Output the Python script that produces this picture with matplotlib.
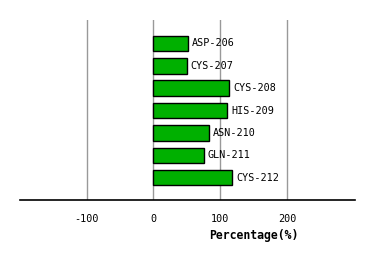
import matplotlib
matplotlib.use("Agg")
import matplotlib.pyplot as plt

labels = ["ASP-206", "CYS-207", "CYS-208", "HIS-209", "ASN-210", "GLN-211", "CYS-212"]
values = [51.5, 50, 113, 110, 83, 75.5, 117.5]
xticks = [-100, 0, 100, 200]

fig = plt.figure(figsize=(3.74, 2.60), dpi=100)
ax = fig.add_axes([20/374, 60/260, 335/374, 180/260])
ypos = list(range(len(labels)))
ax.barh(ypos, values, height=0.69, color="#00b000", edgecolor="black", linewidth=1.0, zorder=3)
for y, v, lab in zip(ypos, values, labels):
    ax.text(v + 6, y, lab, va="center", ha="left", family="DejaVu Sans Mono", fontsize=7.3, zorder=4)
ax.set_xlim(-200, 302)
ax.set_ylim(7.0, -1.05)
ax.set_xticks(xticks)
ax.set_xticklabels([str(t) for t in xticks], family="DejaVu Sans Mono", fontsize=7.3)
ax.tick_params(axis="x", length=0, pad=10)
ax.set_yticks([])
for t in xticks:
    ax.axvline(t, color="#999999", linewidth=1.0, zorder=1)
for s in ["top", "left", "right"]:
    ax.spines[s].set_visible(False)
ax.spines["bottom"].set_linewidth(1.2)
ax.spines["bottom"].set_zorder(5)
ax.set_xlabel("Percentage(%)", family="DejaVu Sans Mono", fontweight="bold", fontsize=8.3)
ax.xaxis.set_label_coords((254 - 20) / 335, -(235 - 200) / 180, transform=ax.transAxes)
ax.xaxis.label.set_va("center")
fig.savefig("out.png", dpi=100)
